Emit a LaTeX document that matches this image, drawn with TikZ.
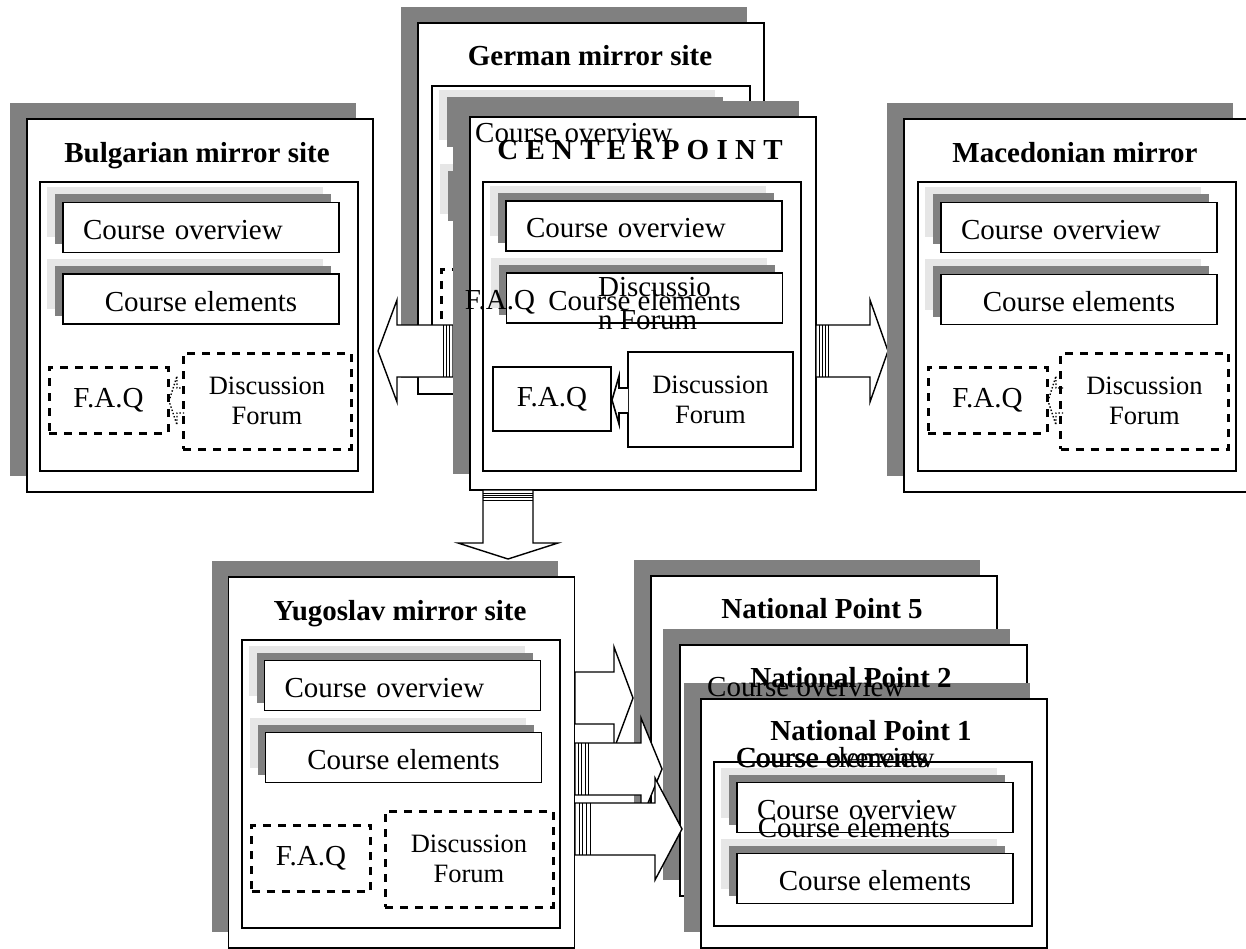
\documentclass[tikz,border=0pt]{standalone}
\usepackage{fontspec}
\setmainfont{Liberation Serif}
\usetikzlibrary{shadows}
\definecolor{darkshade}{HTML}{808080}
\definecolor{lightshade}{HTML}{E6E6E6}
\tikzset{
  sitebox/.style={draw,fill=white,line width=1.4pt,inner sep=0pt,minimum width=346pt,
    general shadow={fill=darkshade,shadow xshift=-17pt,shadow yshift=16pt}},
  sitetitle/.style={font=\fontsize{29}{33}\selectfont\bfseries,inner sep=0pt,text depth=0pt},
  panel/.style={draw,fill=white,line width=1.4pt,inner sep=0pt,minimum width=318pt},
  itembox/.style={draw,fill=white,line width=1.6pt,inner sep=0pt,minimum width=276pt,minimum height=50pt,
    text height=24pt,text depth=0pt,
    general shadow={fill=lightshade,shadow xshift=-16pt,shadow yshift=15pt},
    general shadow={fill=darkshade,shadow xshift=-8pt,shadow yshift=8pt}},
  overview/.style={itembox,inner xsep=20pt,text width=236pt,align=left},
  elements/.style={itembox},
  faqbox/.style={draw,fill=white,line width=3pt,dash pattern=on 8pt off 7pt,
    minimum width=119pt,minimum height=66pt,inner sep=0pt},
  forumbox/.style={faqbox,minimum width=168pt,minimum height=96pt,align=center,
    font=\fontsize{26.5}{30}\selectfont},
  solidfaq/.style={draw,fill=white,line width=2.4pt,minimum width=118pt,minimum height=64pt,inner sep=0pt},
  solidforum/.style={solidfaq,minimum width=165pt,minimum height=95pt,align=center,
    font=\fontsize{26.5}{30}\selectfont},
  stray/.style={inner sep=0pt},
  blockarrow/.style={draw,fill=white,line width=1.4pt},
  stripe/.style={line width=0.8pt},
  dotarrow/.style={draw,dotted,line width=1.4pt}
}
\begin{document}
\begin{tikzpicture}[x=1pt,y=-1pt,font=\fontsize{29}{33}\selectfont]
	\useasboundingbox (0,0) rectangle (1246,949);
	% German mirror site (behind the centre point)
	\node[sitebox,minimum height=371pt] (germ) at (591,208.5) {};
	\node[sitetitle] (germ-title) at (590,55) {German mirror site};
	\node[panel,minimum height=287pt] (germ-panel) at (591,229.5) {};
	\node[overview] (germ-co) at (593,130.5) {};
	\node[elements] (germ-ce) at (594,204.5) {};
	\node[faqbox] (germ-faq) at (500.5,303) {};
	\node[forumbox] (germ-forum) at (659,304) {};
	% Bulgarian mirror site
	\node[sitebox,minimum height=373pt] (bulg) at (200,305.5) {};
	\node[sitetitle] (bulg-title) at (197,152) {Bulgarian mirror site};
	\node[panel,minimum height=289pt] (bulg-panel) at (199,326.5) {};
	\node[overview] (bulg-co) at (201,227.5) {Course overview};
	\node[elements] (bulg-ce) at (201,299) {Course elements};
	\node[faqbox] (bulg-faq) at (108.5,400) {F.A.Q};
	\node[forumbox] (bulg-forum) at (267,401) {Discussion\\Forum};
	\draw[dotarrow] (184,388) -- (177,388) -- (177,376) -- (169,401) -- (177,425) -- (177,413) -- (184,413);
	\draw[blockarrow] (453,325) -- (397,325) -- (397,300) -- (378,351) -- (397,402) -- (397,377) -- (453,377) -- cycle;
	\foreach \sx in {443,446,449}
		\draw[stripe] (\sx,325) -- (\sx,377);
	% centre point
	\node[sitebox,minimum height=373pt] (cent) at (643,303.5) {};
	\node[sitetitle] (cent-title) at (640,150) {C E N T E R P O I N T};
	\node[panel,minimum height=289pt] (cent-panel) at (642,326.5) {};
	\node[overview] (cent-co) at (644,226) {Course overview};
	\node[elements] (cent-ce) at (644.5,298) {Course elements};
	\node[solidfaq] (cent-faq) at (552,399) {F.A.Q};
	\node[solidforum] (cent-forum) at (710.5,399.5) {Discussion\\Forum};
	\draw[blockarrow,line width=1.6pt] (628,388) -- (619,388) -- (619,376) -- (612,400) -- (619,424) -- (619,413) -- (628,413);
	\node[stray,anchor=west] (germ-co-text) at (475,133) {Course overview};
	\node[stray] (germ-faq-text) at (500,302) {F.A.Q};
	\node[stray,anchor=west,align=left] (germ-forum-text) at (598,303.5) {Discussio\\n Forum};
	% Macedonian mirror
	\draw[blockarrow] (816,325) -- (870,325) -- (870,300) -- (888,351) -- (870,402) -- (870,377) -- (816,377) -- cycle;
	\foreach \sx in {819,822,825,828}
		\draw[stripe] (\sx,325) -- (\sx,377);
	\node[sitebox,minimum height=373pt] (mace) at (1077,305.5) {};
	\node[sitetitle] (mace-title) at (1075,152) {Macedonian mirror};
	\node[panel,minimum height=289pt] (mace-panel) at (1077,326.5) {};
	\node[overview] (mace-co) at (1079,227.5) {Course overview};
	\node[elements] (mace-ce) at (1079,299.5) {Course elements};
	\node[faqbox] (mace-faq) at (987.5,400) {F.A.Q};
	\node[forumbox] (mace-forum) at (1144.5,401) {Discussion\\Forum};
	\draw[dotarrow] (1063,388) -- (1056,388) -- (1056,376) -- (1048,401) -- (1056,425) -- (1056,413) -- (1063,413);
	% Yugoslav mirror site
	\draw[blockarrow] (483,490) -- (483,543) -- (458,543) -- (508,559) -- (558,543) -- (533,543) -- (533,490) -- cycle;
	\foreach \sy in {493,495,497,500}
		\draw[stripe] (483,\sy) -- (533,\sy);
	\node[sitebox,minimum height=371pt] (yugo) at (401.5,762.5) {};
	\node[sitetitle] (yugo-title) at (400,610) {Yugoslav mirror site};
	\node[panel,minimum height=288pt] (yugo-panel) at (401,784) {};
	\node[overview] (yugo-co) at (402.5,685.5) {Course overview};
	\node[elements] (yugo-ce) at (403.5,757.5) {Course elements};
	\node[faqbox] (yugo-faq) at (311,858) {F.A.Q};
	\node[forumbox] (yugo-forum) at (469,859) {Discussion\\Forum};
	% national points
	\draw[blockarrow] (575,672) -- (614,672) -- (614,647) -- (633,698) -- (614,749) -- (614,724) -- (575,724) -- cycle;
	\node[sitebox,minimum height=274pt] (np5) at (824,713) {};
	\draw[blockarrow] (575,743) -- (641,743) -- (641,718) -- (662,769) -- (641,820) -- (641,795) -- (575,795) -- cycle;
	\foreach \sx in {578,581,585,588}
		\draw[stripe] (\sx,743) -- (\sx,795);
	\node[sitebox,minimum width=347pt,minimum height=251pt] (np2) at (853.5,770.5) {};
	\draw[blockarrow] (575,803) -- (655,803) -- (655,778) -- (682,829) -- (655,880) -- (655,855) -- (575,855) -- cycle;
	\foreach \sx in {579,582,586,590}
		\draw[stripe] (\sx,803) -- (\sx,855);
	\node[sitebox,minimum height=249pt] (np1) at (874,823.5) {};
	\node[panel,minimum height=164pt] (np1-panel) at (873,844) {};
	\node[overview] (np1-co) at (875,807.5) {Course overview};
	\node[elements] (np1-ce) at (875,878.5) {Course elements};
	\node[sitetitle] (np5-title) at (822,608) {National Point 5};
	\node[sitetitle] (np2-title) at (851,677) {National Point 2};
	\node[sitetitle] (np1-title) at (871,730) {National Point 1};
	\node[stray,anchor=west] (np5-co-text) at (707,687) {Course overview};
	\node[stray,anchor=west] (np5-ce-text) at (736,758) {Course elements};
	\node[stray,anchor=west] (np2-co-text) at (737,758) {Course overview};
	\node[stray] (np2-ce-text) at (854,828) {Course elements};
\end{tikzpicture}
\end{document}
